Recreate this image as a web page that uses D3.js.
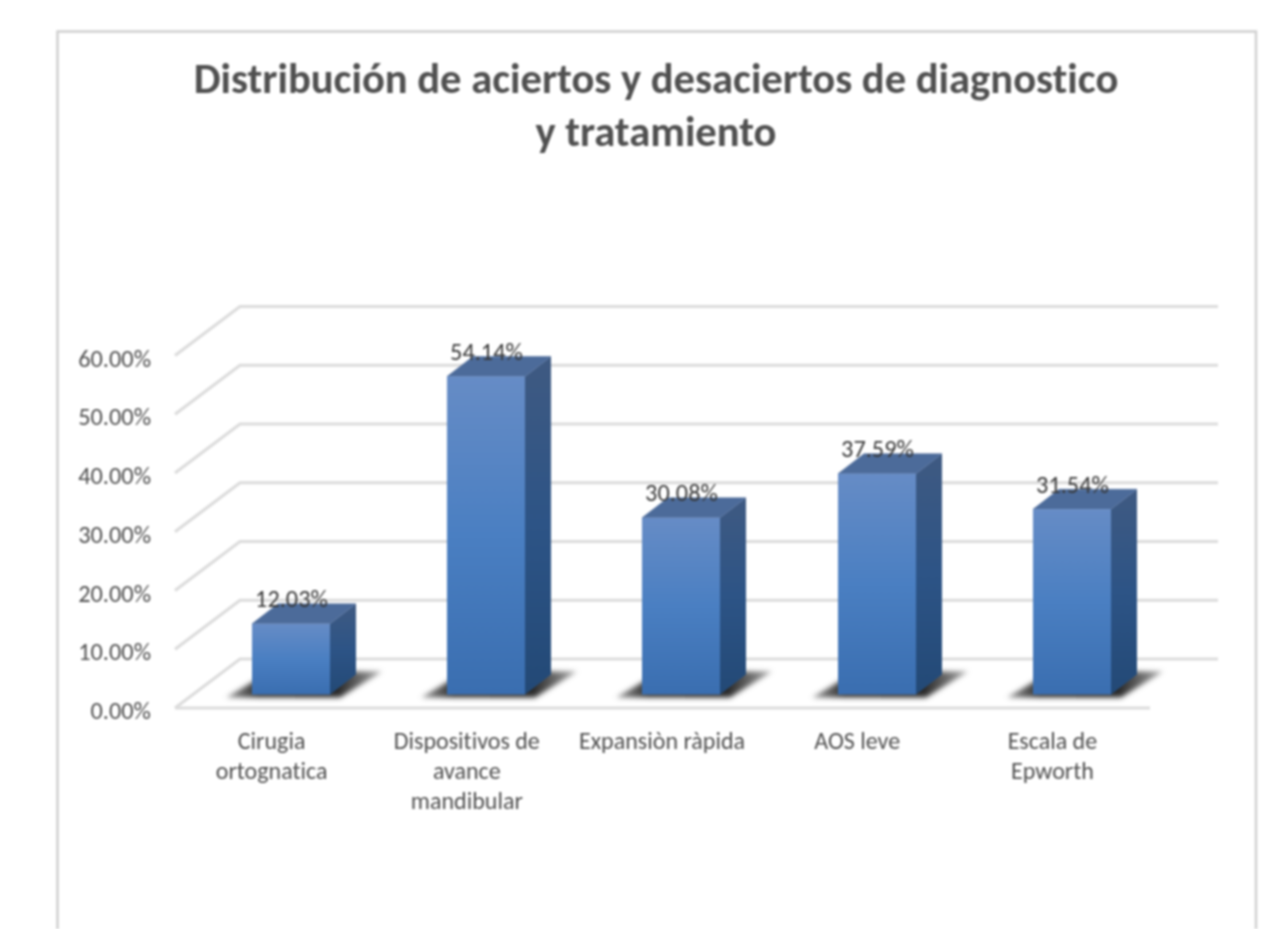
<!DOCTYPE html>
<html><head><meta charset="utf-8">
<script src="https://cdn.jsdelivr.net/npm/d3@7/dist/d3.min.js"></script>
<style>html,body{margin:0;padding:0;background:#fff;overflow:hidden}svg{display:block;filter:blur(.9px)}text{font-family:Carlito,Lato,sans-serif;font-variant-ligatures:none}</style>
</head><body><svg id="c" width="1276" height="929"></svg>
<script>
const titleLines = ["Distribución de aciertos y desaciertos de diagnostico","y tratamiento"];
const categories = ["Cirugia\nortognatica","Dispositivos de\navance\nmandibular","Expansiòn ràpida","AOS leve","Escala de\nEpworth"];
const values = [12.03,54.14,30.08,37.59,31.54];
const valueLabels = ["12.03%","54.14%","30.08%","37.59%","31.54%"];
const yTicks = [0,10,20,30,40,50,60];

const svg = d3.select("#c");
const defs = svg.append("defs");
const grad = (id,stops)=>{const g=defs.append("linearGradient").attr("id",id).attr("x1",0).attr("y1",0).attr("x2",0).attr("y2",1);
  stops.forEach(s=>g.append("stop").attr("offset",s[0]).attr("stop-color",s[1]));};
grad("front",[[0,"#668cc6"],[.5,"#4a7fc2"],[1,"#3a6eb0"]]);
grad("side",[[0,"#3f5a82"],[.5,"#2d5486"],[1,"#234976"]]);
const sg=defs.append("linearGradient").attr("id","shadeFill").attr("x1",0).attr("y1",0).attr("x2",1).attr("y2",0);
[[0,"#999"],[.2,"#333"],[.72,"#2a2a2a"],[1,"#aaa"]].forEach(s=>sg.append("stop").attr("offset",s[0]).attr("stop-color",s[1]));
defs.append("filter").attr("id","sh").attr("x","-40%").attr("y","-100%").attr("width","180%").attr("height","300%")
  .append("feGaussianBlur").attr("stdDeviation",2.8);

// frame
svg.append("rect").attr("x",57.5).attr("y",31.5).attr("width",1198.5).attr("height",960)
  .attr("fill","#fff").attr("stroke","#d0d0d0").attr("stroke-width",2.5);

// title
svg.append("g").selectAll("text").data(titleLines).join("text")
  .attr("x",656).attr("y",(d,i)=>92.5+i*53.5).attr("text-anchor","middle")
  .attr("font-size",42.6).attr("font-weight",700).attr("fill","#505050").text(d=>d);

const floorY=708, depthX=65, depthY=-49;
const y=d3.scaleLinear().domain([0,60]).range([floorY,floorY-352.5]);
const x=d3.scaleBand().domain(categories).range([175,1151]);
const barW=78, barDX=26, barDY=-20, barOffX=18.5, barOffY=-13.5;

// grid
const grid=svg.append("g").attr("fill","none").attr("stroke","#dcdcdc").attr("stroke-width",3.2);
yTicks.forEach(t=>{
  const p=d3.path();
  p.moveTo(175,y(t)); p.lineTo(175+depthX,y(t)+depthY); p.lineTo(1218,y(t)+depthY);
  grid.append("path").attr("d",p.toString());
});
grid.append("line").attr("x1",175).attr("x2",1150).attr("y1",floorY).attr("y2",floorY);

// y axis
const ya=svg.append("g").attr("transform","translate(151,2.5)").call(d3.axisLeft(y).tickValues(yTicks).tickSize(0).tickPadding(0).tickFormat(d=>d3.format(".2f")(d)+"%"));
ya.select(".domain").remove();
ya.selectAll("text").attr("font-size",24.3).attr("fill","#4f4f4f").attr("dy","0.33em").style("font-family","Carlito,Lato,sans-serif");

// x axis labels
const xa=svg.append("g").selectAll("g").data(categories).join("g")
  .attr("transform",d=>`translate(${x(d)+x.bandwidth()/2-1},748.5)`);
xa.selectAll("text").data(d=>d.split("\n")).join("text")
  .attr("y",(d,i)=>i*30).attr("text-anchor","middle").attr("font-size",24).attr("fill","#4f4f4f").text(d=>d);

// bars
const bars=svg.append("g").selectAll("g").data(values).join("g")
  .attr("transform",(d,i)=>`translate(${Math.round(x(categories[i])+x.bandwidth()/2+barOffX-barW/2-.1)},${floorY+barOffY})`);
bars.append("path").attr("filter","url(#sh)").attr("fill","url(#shadeFill)")
  .attr("d",`M-26,3 L10,-18 L${barW+26},-23 L${barW+52},-23 L${barW+10},3 Z`);
const h=d=>floorY-y(d);
bars.append("path").attr("fill","url(#side)").attr("d",d=>`M${barW-1},0 V${-h(d)} H${barW} l${barDX},${barDY} V${barDY} L${barW},0 Z`);
bars.append("path").attr("fill","#4c6b9a").attr("stroke","#4c6b9a").attr("stroke-width",.5).attr("d",d=>`M0,${-h(d)} l${barDX},${barDY} H${barW+barDX} L${barW},${-h(d)} Z`);
bars.append("rect").attr("fill","url(#front)").attr("width",barW).attr("y",d=>-h(d)).attr("height",h);

// value labels
bars.append("text").attr("x",barW/2+.5).attr("y",d=>-h(d)-16.5).attr("text-anchor","middle")
  .attr("font-size",24.3).attr("fill","#383838").text((d,i)=>valueLabels[i]);
</script></body></html>
